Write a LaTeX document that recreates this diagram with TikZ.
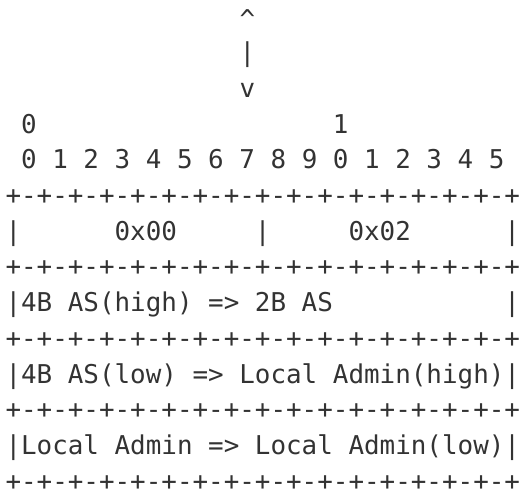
\documentclass[tikz,border=0pt]{standalone}
\usepackage{fontspec}
\setmonofont{DejaVu Sans Mono}
\definecolor{ink}{HTML}{333333}
\begin{document}
\begin{tikzpicture}[x=1pt,y=1pt,
  ascii/.style={font=\ttfamily\fontsize{25.9}{26}\selectfont, text=ink, inner sep=0pt, outer sep=0pt, anchor=base west}]
\useasboundingbox (0,0) rectangle (521,-493);
\def\cw{15.6}
\def\xo{5.5}
\def\pitch{35.7}
\def\bz{26}
\node[ascii] (l0) at (\xo+15*\cw, -\bz-2) {\string^};
\node[ascii] (l1) at (\xo+15*\cw, -\bz-1*\pitch) {|};
\node[ascii] (l2) at (\xo+15*\cw, -\bz-2*\pitch) {v};
\node[ascii] (l3) at (\xo+1*\cw, -\bz-3*\pitch) {0~~~~~~~~~~~~~~~~~~~1};
\node[ascii] (l4) at (\xo+1*\cw, -\bz-4*\pitch) {0~1~2~3~4~5~6~7~8~9~0~1~2~3~4~5};
\node[ascii] (l5) at (\xo, -\bz-5*\pitch) {+-+-+-+-+-+-+-+-+-+-+-+-+-+-+-+-+};
\node[ascii] (l6) at (\xo, -\bz-6*\pitch) {|~~~~~~0x00~~~~~|~~~~~0x02~~~~~~|};
\node[ascii] (l7) at (\xo, -\bz-7*\pitch) {+-+-+-+-+-+-+-+-+-+-+-+-+-+-+-+-+};
\node[ascii] (l8) at (\xo, -\bz-8*\pitch) {|4B~AS(high)~=>~2B~AS~~~~~~~~~~~|};
\node[ascii] (l9) at (\xo, -\bz-9*\pitch) {+-+-+-+-+-+-+-+-+-+-+-+-+-+-+-+-+};
\node[ascii] (l10) at (\xo, -\bz-10*\pitch) {|4B~AS(low)~=>~Local~Admin(high)|};
\node[ascii] (l11) at (\xo, -\bz-11*\pitch) {+-+-+-+-+-+-+-+-+-+-+-+-+-+-+-+-+};
\node[ascii] (l12) at (\xo, -\bz-12*\pitch) {|Local~Admin~=>~Local~Admin(low)|};
\node[ascii] (l13) at (\xo, -\bz-13*\pitch) {+-+-+-+-+-+-+-+-+-+-+-+-+-+-+-+-+};
\end{tikzpicture}
\end{document}
